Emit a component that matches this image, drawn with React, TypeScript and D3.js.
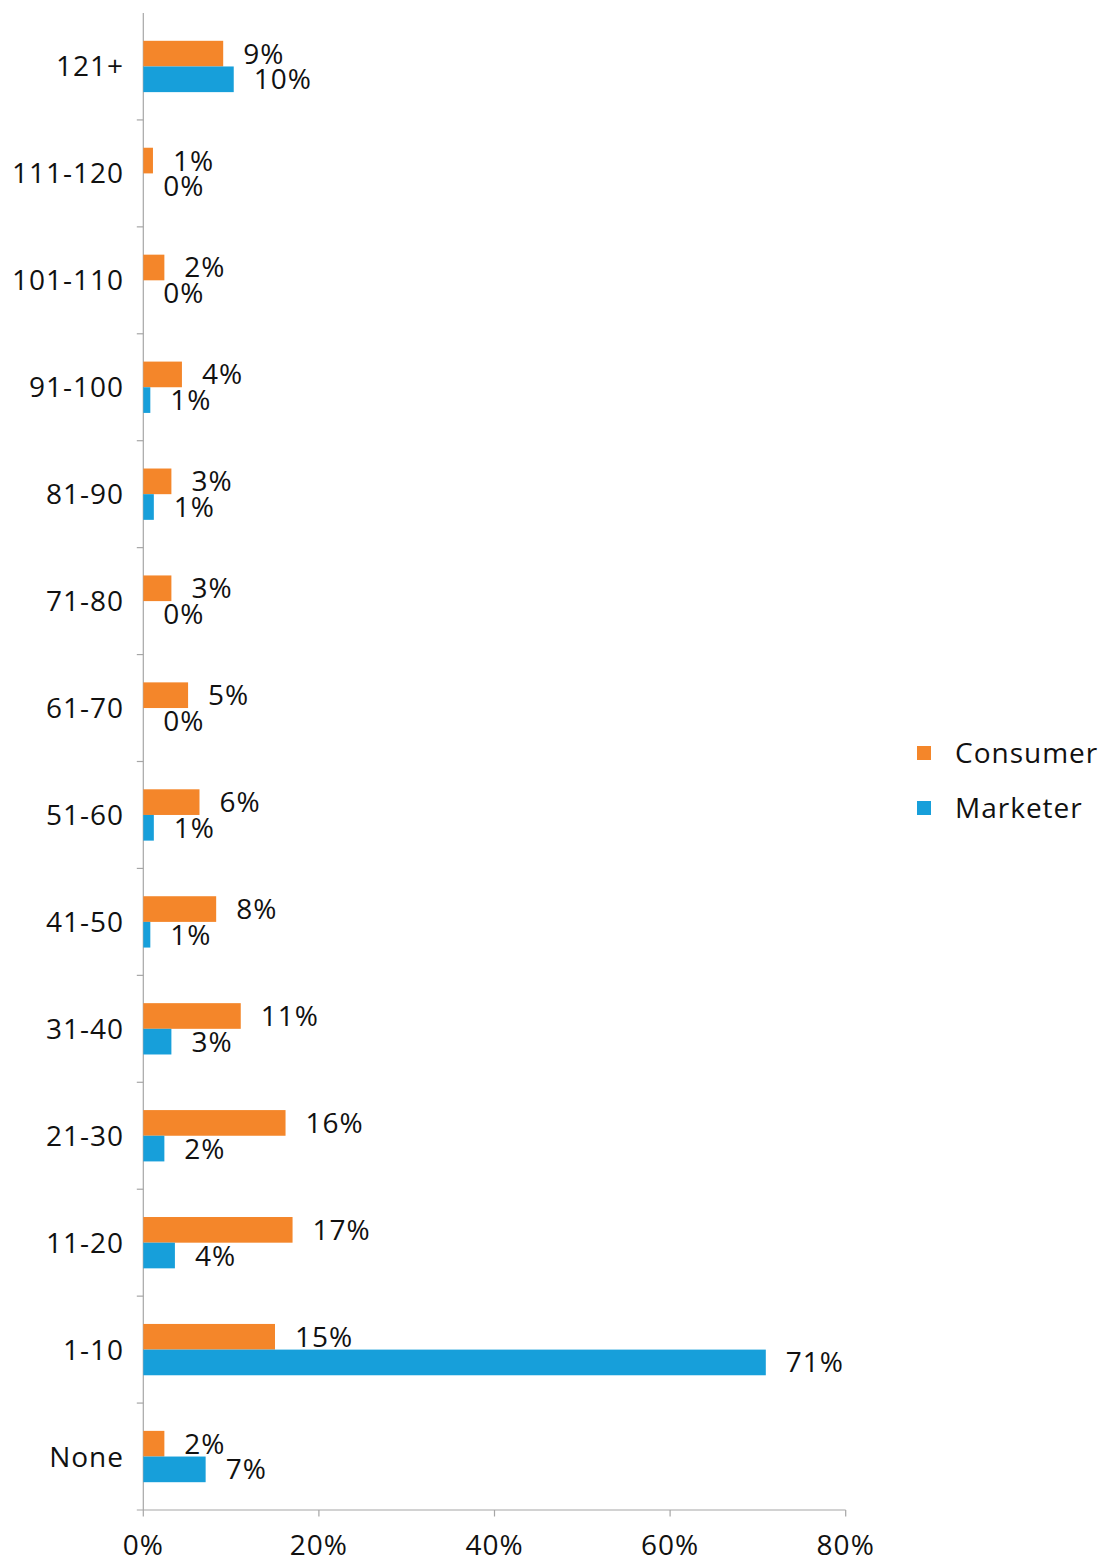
import React from "react";
import * as d3 from "d3";

const categories = ["121+", "111-120", "101-110", "91-100", "81-90", "71-80", "61-70", "51-60", "41-50", "31-40", "21-30", "11-20", "1-10", "None"];
const consumer = [9.1, 1.1, 2.4, 4.4, 3.2, 3.2, 5.1, 6.4, 8.3, 11.1, 16.2, 17.0, 15.0, 2.4];
const consumerLabels = ["9%", "1%", "2%", "4%", "3%", "3%", "5%", "6%", "8%", "11%", "16%", "17%", "15%", "2%"];
const marketer = [10.3, 0, 0, 0.8, 1.2, 0, 0, 1.2, 0.8, 3.2, 2.4, 3.6, 70.9, 7.1];
const marketerLabels = ["10%", "0%", "0%", "1%", "1%", "0%", "0%", "1%", "1%", "3%", "2%", "4%", "71%", "7%"];
const seriesNames = ["Consumer", "Marketer"];
const xTicks = [0, 20, 40, 60, 80];

const W = 1104;
const H = 1558;
const colors = ["#F4862A", "#179FDA"];
const FONT = "'Open Sans', 'Noto Sans', sans-serif";
const axisColor = "#A6A6A6";

export default function App() {
  const left = 143.3;
  const right = 845.7;
  const top = 13;
  const bottom = 1510;
  const x = d3.scaleLinear().domain([0, 80]).range([left, right]);
  const y = d3.scaleBand<string>().domain(categories).range([top, bottom]).paddingInner(0.52).paddingOuter(0.26);
  const sub = d3.scaleBand<string>().domain(seriesNames).range([0, y.bandwidth()]);
  const step = y.step();
  const series = [
    { name: seriesNames[0], values: consumer, labels: consumerLabels, color: colors[0] },
    { name: seriesNames[1], values: marketer, labels: marketerLabels, color: colors[1] },
  ];
  const fs = 28;
  return (
    <svg width={W} height={H} style={{ position: "absolute", left: 0, top: 0 }} fontFamily={FONT}>
      <rect width={W} height={H} fill="#fff" />
      {/* axes */}
      <line x1={left} x2={left} y1={top} y2={bottom} stroke={axisColor} strokeWidth={1.2} />
      <line x1={left - 6.5} x2={right} y1={bottom} y2={bottom} stroke={axisColor} strokeWidth={1.2} />
      {categories.map((c, i) =>
        i === 0 ? null : (
          <line key={"yt" + c} x1={left - 6.5} x2={left} y1={top + i * step} y2={top + i * step} stroke={axisColor} strokeWidth={1.2} />
        )
      )}
      {xTicks.map((t) => (
        <g key={"xt" + t}>
          <line x1={x(t)} x2={x(t)} y1={bottom} y2={bottom + 6.5} stroke={axisColor} strokeWidth={1.2} />
          <text x={x(t)} y={1555} textAnchor="middle" fontSize={fs} letterSpacing={1} fill="#111">
            {t + "%"}
          </text>
        </g>
      ))}
      {categories.map((c) => (
        <text key={"cl" + c} x={124} y={(y(c) as number) + y.bandwidth() / 2 + 10} textAnchor="end" fontSize={fs} letterSpacing={1} fill="#111">
          {c}
        </text>
      ))}
      {series.map((s) =>
        categories.map((c, i) => {
          const by = (y(c) as number) + (sub(s.name) as number);
          const bh = sub.bandwidth();
          return (
            <g key={s.name + c}>
              {s.values[i] > 0 && <rect x={x(0)} y={by} width={x(s.values[i]) - x(0)} height={bh} fill={s.color} />}
              <text x={x(s.values[i]) + 20} y={by + bh / 2 + 10} fontSize={fs} letterSpacing={1} fill="#111">
                {s.labels[i]}
              </text>
            </g>
          );
        })
      )}
      {/* legend */}
      {series.map((s, i) => (
        <g key={"lg" + s.name}>
          <rect x={917} y={746 + i * 55} width={14} height={14} fill={s.color} />
          <text x={955} y={753 + i * 55 + 10} fontSize={fs} letterSpacing={1} fill="#111">
            {s.name}
          </text>
        </g>
      ))}
    </svg>
  );
}
